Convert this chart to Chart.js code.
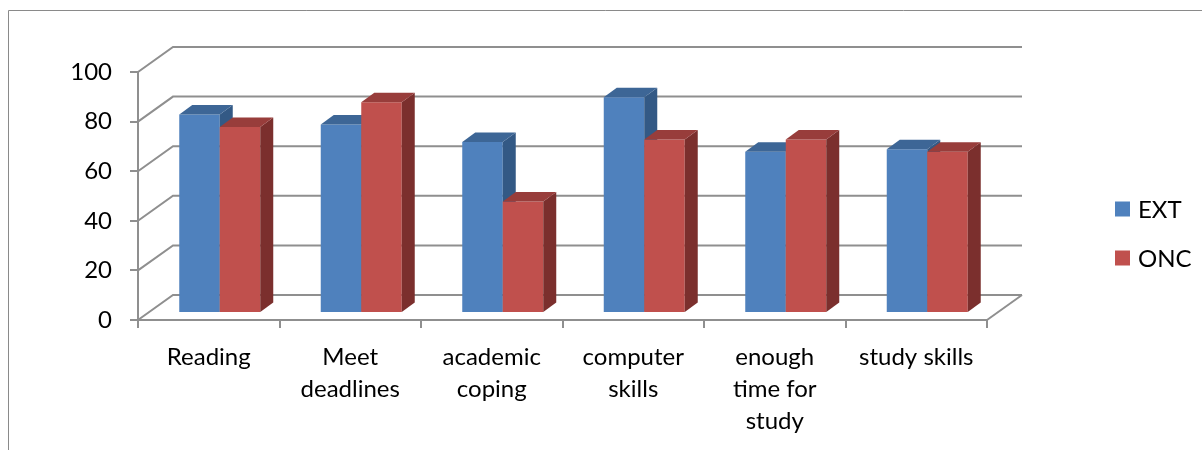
<!DOCTYPE html>
<html><head><meta charset="utf-8">
<script src="https://cdn.jsdelivr.net/npm/chart.js@4.4.0/dist/chart.umd.min.js"></script>
<style>html,body{margin:0;padding:0;background:#fff;} #wrap{width:1202px;height:450px;position:relative;}</style>
</head><body><div id="wrap"><canvas id="c" width="1202" height="450"></canvas></div>
<script>
const categories = [["Reading"],["Meet","deadlines"],["academic","coping"],["computer","skills"],["enough","time for","study"],["study skills"]];
const extValues = [80, 76, 69, 87, 65, 66];
const oncValues = [75, 85, 45, 70, 70, 65];
const seriesNames = ["EXT","ONC"];
const yMin = 0, yMax = 100, yStep = 20;

const FONT = 'Lato';
const GRID = '#8f8f8f';
const DEPTH = {dx:35, dy:-25};
const BAR_SHIFT = {dx:11, dy:-7};
const BAR_DEPTH = {dx:13, dy:-9.5};
const frontColors = ['#4F81BD','#C0504D'];
const faceColors = [{top:'#3D6696', side:'#335985'},{top:'#983D3B', side:'#7B2F2D'}];

const threeD = {
  id:'threeD',
  beforeDatasetsDraw(chart){
    const ctx=chart.ctx, ys=chart.scales.y, xs=chart.scales.x;
    const L=xs.left, R=xs.right;
    ctx.save();
    ctx.strokeStyle=GRID; ctx.lineWidth=2;
    ys.ticks.forEach(t=>{
      const py=ys.getPixelForValue(t.value);
      ctx.beginPath(); ctx.moveTo(L,py); ctx.lineTo(L+DEPTH.dx,py+DEPTH.dy); ctx.lineTo(R+DEPTH.dx,py+DEPTH.dy); ctx.stroke();
    });
    const p0=ys.getPixelForValue(0);
    ctx.beginPath(); ctx.moveTo(R,p0); ctx.lineTo(R+DEPTH.dx,p0+DEPTH.dy); ctx.stroke();
    const metas=chart.data.datasets.map((d,i)=>chart.getDatasetMeta(i));
    ctx.translate(BAR_SHIFT.dx, BAR_SHIFT.dy);
    for (let j=0;j<chart.data.labels.length;j++){
      metas.forEach((m,di)=>{
        const el=m.data[j];
        el.draw(ctx);
        const p=el.getProps(['x','y','base','width'],true);
        const l=p.x-p.width/2, r=p.x+p.width/2, top=p.y, base=p.base;
        ctx.fillStyle=faceColors[di].side;
        ctx.beginPath(); ctx.moveTo(r,top); ctx.lineTo(r+BAR_DEPTH.dx,top+BAR_DEPTH.dy); ctx.lineTo(r+BAR_DEPTH.dx,base+BAR_DEPTH.dy); ctx.lineTo(r,base); ctx.closePath(); ctx.fill();
        ctx.fillStyle=faceColors[di].top;
        ctx.beginPath(); ctx.moveTo(l,top); ctx.lineTo(r,top); ctx.lineTo(r+BAR_DEPTH.dx,top+BAR_DEPTH.dy); ctx.lineTo(l+BAR_DEPTH.dx,top+BAR_DEPTH.dy); ctx.closePath(); ctx.fill();
      });
    }
    ctx.restore();
    return false;
  },
  afterDraw(chart){
    const ctx=chart.ctx;
    ctx.save();
    ctx.strokeStyle='#8a8a8a'; ctx.lineWidth=1;
    ctx.beginPath(); ctx.moveTo(8.5,450); ctx.lineTo(8.5,10.5); ctx.lineTo(1202,10.5); ctx.stroke();
    ctx.font='24px '+FONT; ctx.textBaseline='middle'; ctx.textAlign='left';
    const cys=[209,258];
    chart.data.datasets.forEach((d,i)=>{
      ctx.fillStyle=d.backgroundColor; ctx.fillRect(1115,cys[i]-7.5,15,15);
      ctx.fillStyle='#000'; ctx.fillText(d.label,1138,cys[i]+1);
    });
    ctx.restore();
  }
};

new Chart(document.getElementById('c'), {
  type:'bar',
  data:{
    labels:categories,
    datasets:[
      {label:seriesNames[0], data:extValues, backgroundColor:frontColors[0], borderWidth:0},
      {label:seriesNames[1], data:oncValues, backgroundColor:frontColors[1], borderWidth:0}
    ]
  },
  options:{
    responsive:false, animation:false,
    layout:{padding:{left:0, top:72, right:215, bottom:0}},
    datasets:{bar:{categoryPercentage:0.5724, barPercentage:1}},
    plugins:{legend:{display:false}, tooltip:{enabled:false}},
    scales:{
      x:{
        grid:{drawOnChartArea:false, drawTicks:true, tickLength:8, color:GRID, lineWidth:2, offset:true},
        border:{color:GRID, width:2},
        ticks:{color:'#000', font:{family:FONT, size:24, lineHeight:1.34}, padding:13, maxRotation:0, autoSkip:false},
        afterFit(s){ s.height=130; }
      },
      y:{
        min:yMin, max:yMax,
        grid:{drawOnChartArea:false, drawTicks:true, tickLength:8, color:GRID, lineWidth:2},
        border:{color:GRID, width:2},
        ticks:{stepSize:yStep, color:'#000', font:{family:FONT, size:24}, padding:18},
        afterFit(s){ s.width=138; }
      }
    }
  },
  plugins:[threeD]
});
</script>
</body></html>
